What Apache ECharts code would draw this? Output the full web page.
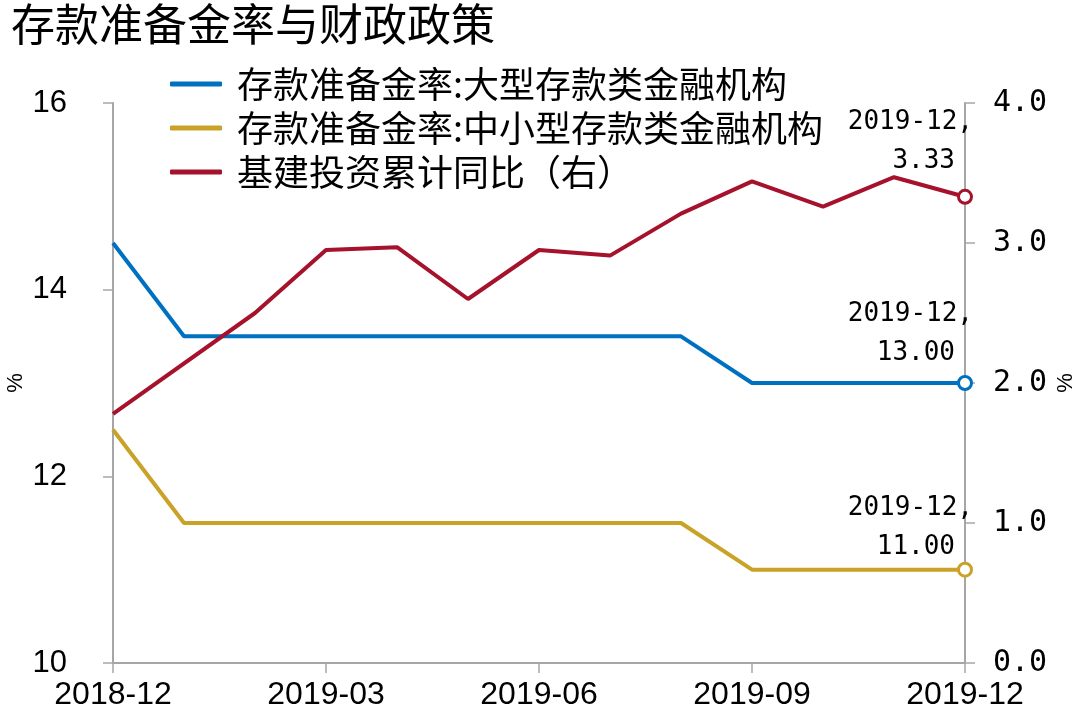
<!DOCTYPE html>
<html><head><meta charset="utf-8">
<script src="https://cdn.jsdelivr.net/npm/echarts@6/dist/echarts.min.js"></script>
<style>html,body{margin:0;padding:0;background:#fff}#c{width:1080px;height:714px}</style>
</head><body><div id="c"></div>
<script>
const categories = ['2018-12','2019-01','2019-02','2019-03','2019-04','2019-05','2019-06','2019-07','2019-08','2019-09','2019-10','2019-11','2019-12'];
const rrrLarge = [14.5,13.5,13.5,13.5,13.5,13.5,13.5,13.5,13.5,13.0,13.0,13.0,13.0];
const rrrSmall = [12.5,11.5,11.5,11.5,11.5,11.5,11.5,11.5,11.5,11.0,11.0,11.0,11.0];
const infraYoY = [1.78,null,2.50,2.95,2.97,2.60,2.95,2.91,3.21,3.44,3.26,3.47,3.33];
const names = ['存款准备金率:大型存款类金融机构','存款准备金率:中小型存款类金融机构','基建投资累计同比（右）'];
const colors = ['#0070C0','#C9A227','#A6112B'];

const cjk = '"Noto Sans CJK SC", sans-serif';
const mono = '"DejaVu Sans Mono", monospace';
const narrow = '"Liberation Sans Narrow", "Liberation Sans", Arial, sans-serif';

function withEndLabel(arr, color, dist) {
  const last = arr.length - 1;
  return arr.map((v, i) => {
    if (i !== last) return v;
    return {
      value: v,
      symbol: 'circle',
      symbolSize: 13,
      itemStyle: { color: '#fff', borderColor: color, borderWidth: 3, opacity: 1 },
      label: {
        show: true,
        position: 'top',
        align: 'right',
        distance: dist,
        offset: [8, 0],
        formatter: '{a|' + categories[last] + ',}\n{b|' + v.toFixed(2) + '}',
        rich: {
          a: { fontFamily: mono, fontSize: 26, lineHeight: 39, color: '#000' },
          b: { fontFamily: mono, fontSize: 26, lineHeight: 39, color: '#000', padding: [0, 18, 0, 0] }
        }
      }
    };
  });
}
function endSize(arrLen) {
  return (val, p) => (p.dataIndex === arrLen - 1 ? 13 : 0);
}

const chart = echarts.init(document.getElementById('c'), null, {renderer: 'canvas'});
chart.setOption({
  backgroundColor: '#fff',
  animation: false,
  title: {
    text: '存款准备金率与财政政策',
    left: 6, top: -3,
    textStyle: { fontFamily: cjk, fontSize: 44, fontWeight: 'normal', color: '#000' }
  },
  legend: {
    orient: 'vertical',
    left: 165, top: 61,
    itemWidth: 52, itemHeight: 5, itemGap: 8,
    textStyle: { fontFamily: cjk, fontSize: 36, color: '#000', padding: [0, 0, 0, 10] },
    data: names.map(n => ({ name: n, icon: 'roundRect' }))
  },
  grid: { left: 113, right: 115, top: 103, bottom: 51, outerBoundsMode: 'none', containLabel: false },
  xAxis: {
    type: 'category',
    data: categories,
    boundaryGap: false,
    axisLine: { lineStyle: { color: '#A6A6A6', width: 2 } },
    axisTick: { interval: 2, length: 10, lineStyle: { color: '#A6A6A6', width: 1.5 } },
    axisLabel: { interval: 2, margin: 16, fontFamily: narrow, fontSize: 32, color: '#000' }
  },
  yAxis: [
    {
      type: 'value', min: 10, max: 16, interval: 2,
      name: '%', nameLocation: 'middle', nameGap: 86, nameRotate: 90, nameMoveOverlap: false,
      nameTextStyle: { fontFamily: narrow, fontSize: 22, color: '#000' },
      axisLine: { show: true, lineStyle: { color: '#A6A6A6', width: 2 } },
      axisTick: { show: true, length: 10, lineStyle: { color: '#A6A6A6', width: 1.5 } },
      splitLine: { show: false },
      axisLabel: { margin: 46, fontFamily: narrow, fontSize: 31, color: '#000' }
    },
    {
      type: 'value', min: 0, max: 4, interval: 1,
      name: '%', nameLocation: 'middle', nameGap: 90, nameRotate: 90, nameMoveOverlap: false,
      nameTextStyle: { fontFamily: narrow, fontSize: 22, color: '#000' },
      axisLine: { show: true, lineStyle: { color: '#A6A6A6', width: 2 } },
      axisTick: { show: true, length: 10, lineStyle: { color: '#A6A6A6', width: 1.5 } },
      splitLine: { show: false },
      axisLabel: { margin: 28, fontFamily: mono, fontSize: 30, color: '#000',
        formatter: v => v.toFixed(1) }
    }
  ],
  series: [
    { name: names[0], type: 'line', yAxisIndex: 0, symbol: 'circle', symbolSize: endSize(rrrLarge.length),
      showSymbol: true, showAllSymbol: true, color: colors[0],
      lineStyle: { width: 4, color: colors[0] }, data: withEndLabel(rrrLarge, colors[0], 2) },
    { name: names[1], type: 'line', yAxisIndex: 0, symbol: 'circle', symbolSize: endSize(rrrSmall.length),
      showSymbol: true, showAllSymbol: true, color: colors[1],
      lineStyle: { width: 4, color: colors[1] }, data: withEndLabel(rrrSmall, colors[1], -5) },
    { name: names[2], type: 'line', yAxisIndex: 1, symbol: 'circle', symbolSize: endSize(infraYoY.length),
      showSymbol: true, showAllSymbol: true, color: colors[2], connectNulls: true,
      lineStyle: { width: 4, color: colors[2] }, data: withEndLabel(infraYoY, colors[2], 8) }
  ]
});
</script></body></html>
